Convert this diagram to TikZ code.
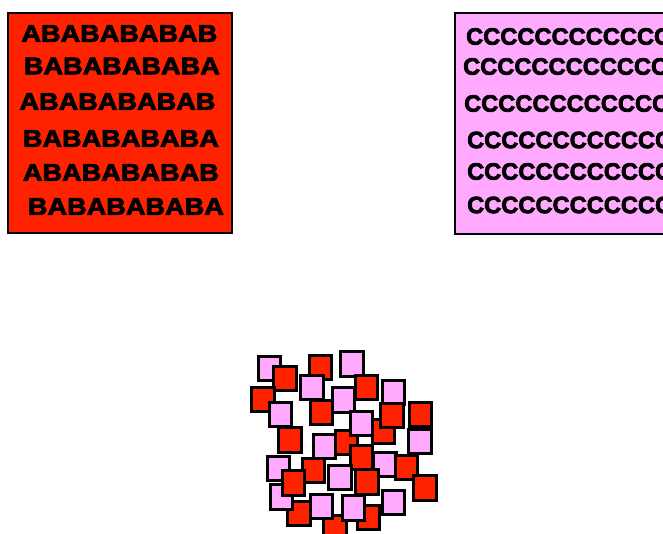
\documentclass[tikz,border=0pt]{standalone}
\usepackage{fontspec}
\usepackage{graphicx}
\newfontfamily\boldsans[FakeBold=3]{Liberation Sans Bold}
\definecolor{redfill}{RGB}{255,34,0}
\definecolor{pinkfill}{RGB}{255,170,255}
\tikzset{
  panel/.style={draw=black, line width=2pt, inner sep=0pt},
  abrow/.style={anchor=west, inner sep=0pt},
  sq/.style={draw=black, line width=3.1pt, inner sep=0pt, minimum width=22.3pt, minimum height=24.3pt},
  rsq/.style={sq, fill=redfill},
  psq/.style={sq, fill=pinkfill},
}
\newcommand{\abtxt}[1]{\resizebox{196pt}{16.5pt}{\boldsans #1}}
\newcommand{\ctxt}{\resizebox{205pt}{16.5pt}{\boldsans CCCCCCCCCCCC}}
\begin{document}
\begin{tikzpicture}[x=1pt,y=-1pt]
\clip (0,0) rectangle (663,533);
\fill[white] (0,0) rectangle (663,533);
% red panel
\node[panel, fill=redfill, minimum width=224pt, minimum height=220pt] (redbox) at (120,123) {};
\node[abrow] (ra1) at (21.2,33.5) {\abtxt{ABABABABAB}};
\node[abrow] (ra2) at (23.7,66) {\abtxt{BABABABABA}};
\node[abrow] (ra3) at (19.3,101.5) {\abtxt{ABABABABAB}};
\node[abrow] (ra4) at (22.7,138.5) {\abtxt{BABABABABA}};
\node[abrow] (ra5) at (22.7,172.5) {\abtxt{ABABABABAB}};
\node[abrow] (ra6) at (27.7,206.5) {\abtxt{BABABABABA}};
% pink panel
\node[panel, fill=pinkfill, minimum width=225pt, minimum height=221pt] (pinkbox) at (567.5,123.5) {};
\node[abrow] (pc1) at (466,36.5) {\ctxt};
\node[abrow] (pc2) at (463,66.5) {\ctxt};
\node[abrow] (pc3) at (464,103.5) {\ctxt};
\node[abrow] (pc4) at (467,140) {\ctxt};
\node[abrow] (pc5) at (467,171.5) {\ctxt};
\node[abrow] (pc6) at (467,205) {\ctxt};
% cluster of squares
\node[psq] (s1) at (269.5,368.5) {};
\node[rsq] (s4) at (285,378.5) {};
\node[rsq] (s2) at (320.5,367.5) {};
\node[psq] (s5) at (312,387.5) {};
\node[psq] (s3) at (352,364) {};
\node[rsq] (s6) at (263,399.5) {};
\node[psq] (s7) at (280.5,414.5) {};
\node[rsq] (s8) at (321.5,412.5) {};
\node[psq] (s9) at (343.5,400) {};
\node[rsq] (s10) at (366.5,387.5) {};
\node[psq] (s11) at (393.5,392.5) {};
\node[rsq] (s15) at (383.5,431.5) {};
\node[rsq] (s12) at (392,415.5) {};
\node[rsq] (s13) at (420.5,414.5) {};
\node[rsq] (s19) at (346.5,442.5) {};
\node[psq] (s14) at (361.5,423.5) {};
\node[psq] (s16) at (420,441.5) {};
\node[rsq] (s17) at (290,440) {};
\node[rsq] (s25) at (313.5,470.5) {};
\node[psq] (s18) at (324.5,446.5) {};
\node[rsq] (s20) at (361.5,457.5) {};
\node[psq] (s21) at (385,464.5) {};
\node[rsq] (s22) at (406.5,467.5) {};
\node[rsq] (s23) at (425,488) {};
\node[psq] (s24) at (278.5,468.5) {};
\node[rsq] (s30) at (299,513.5) {};
\node[psq] (s29) at (281.5,497) {};
\node[rsq] (s26) at (293.5,483) {};
\node[psq] (s27) at (340,477.5) {};
\node[rsq] (s28) at (367,482) {};
\node[rsq] (s35) at (335,527.5) {};
\node[psq] (s31) at (321.5,506.5) {};
\node[rsq] (s33) at (368.5,517.5) {};
\node[psq] (s32) at (353.5,508) {};
\node[psq] (s34) at (393.5,502.5) {};
\end{tikzpicture}
\end{document}
